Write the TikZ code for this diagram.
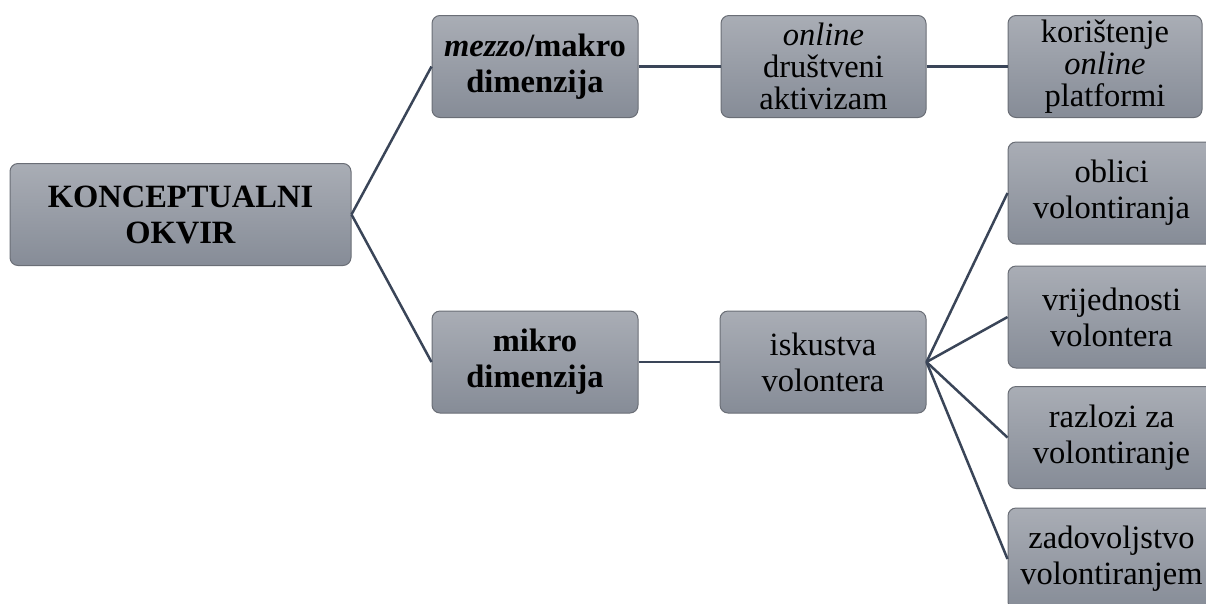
\documentclass[tikz,border=0pt]{standalone}
\usepackage{fontspec}
\setmainfont{Liberation Serif}
\definecolor{boxtop}{HTML}{A9ADB5}
\definecolor{boxbot}{HTML}{868C97}
\definecolor{boxborder}{HTML}{6A6E76}
\definecolor{linkcol}{HTML}{3A4558}
\begin{document}
\begin{tikzpicture}[x=1pt,y=-1pt]
\useasboundingbox (0,0) rectangle (1206,603);
\clip (0,0) rectangle (1206,603);
\tikzset{
  box/.style={draw=boxborder, line width=1pt, rounded corners=8pt,
    top color=boxtop, bottom color=boxbot, align=center, inner sep=0pt,
    minimum height=102pt, font=\fontsize{32.5}{36}\selectfont},
  threeline/.style={font=\fontsize{32.5}{32}\selectfont},
  link/.style={draw=linkcol, line width=2.5pt}
}
\node[box, minimum width=341pt] (root) at (180.5,214.5) {\textbf{KONCEPTUALNI}\\\textbf{OKVIR}};
\node[box, minimum width=206pt] (mezzo) at (535,66.5) {\textbf{\textit{mezzo}/makro}\\\textbf{dimenzija}};
\node[box, minimum width=205pt, threeline] (online) at (823.5,66.5) {\textit{online}\\društveni\\aktivizam};
\node[box, minimum width=194pt, threeline] (kor) at (1105,66.5) {korištenje\\\textit{online}\\platformi};
\node[box, minimum width=206pt] (mikro) at (535,362) {\textbf{mikro}\\\textbf{dimenzija}};
\node[box, minimum width=206pt] (isk) at (823,362) {iskustva\\volontera};
\node[box, minimum width=207pt] (obl) at (1111.5,193) {oblici\\volontiranja};
\node[box, minimum width=207pt] (vri) at (1111.5,317) {vrijednosti\\volontera};
\node[box, minimum width=207pt] (raz) at (1111.5,437.5) {razlozi za\\volontiranje};
\node[box, minimum width=207pt] (zad) at (1111.5,559) {zadovoljstvo\\volontiranjem};
\draw[link] (root.east) -- (mezzo.west);
\draw[link] (root.east) -- (mikro.west);
\draw[link] (mezzo.east) -- (online.west);
\draw[link] (online.east) -- (kor.west);
\draw[link] (mikro.east) -- (isk.west);
\draw[link] (isk.east) -- (obl.west);
\draw[link] (isk.east) -- (vri.west);
\draw[link] (isk.east) -- (raz.west);
\draw[link] (isk.east) -- (zad.west);
\end{tikzpicture}
\end{document}
